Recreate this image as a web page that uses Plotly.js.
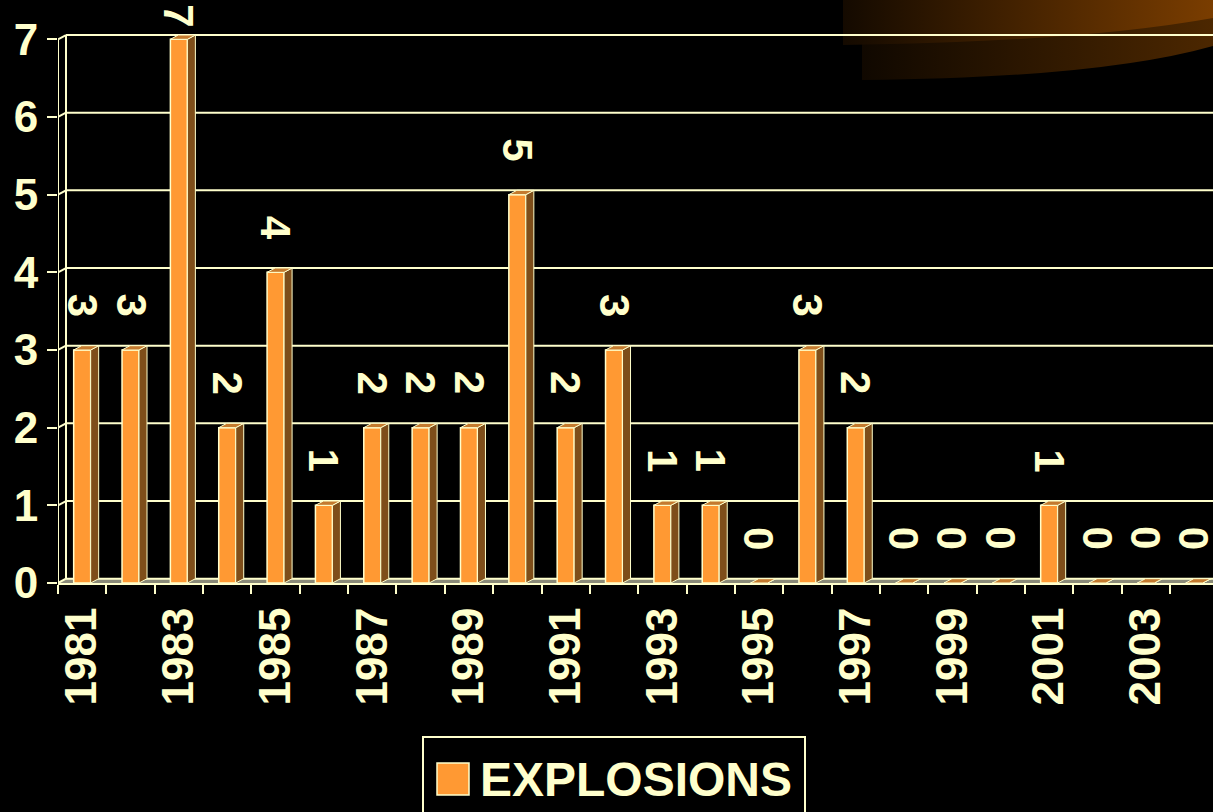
<!DOCTYPE html>
<html>
<head>
<meta charset="utf-8">
<script src="https://cdn.plot.ly/plotly-3.0.1.min.js"></script>
<style>
  html, body { margin: 0; padding: 0; background: #000; overflow: hidden; }
  #deco { position: absolute; left: 0; top: 0; z-index: 0; }
  #chart { position: absolute; left: 0; top: 0; width: 1213px; height: 812px; z-index: 1; }
</style>
</head>
<body>
<svg id="deco" width="1213" height="812" xmlns="http://www.w3.org/2000/svg">
  <defs>
    <linearGradient id="gUp" x1="0" x2="1" y1="0" y2="0">
      <stop offset="0" stop-color="#140a00"/>
      <stop offset="1" stop-color="#7a3d00"/>
    </linearGradient>
    <linearGradient id="gLow" x1="0" x2="1" y1="0" y2="0">
      <stop offset="0" stop-color="#100800"/>
      <stop offset="1" stop-color="#4c2700"/>
    </linearGradient>
  </defs>
  <path d="M 862 0 L 862 80 Q 1100 78 1213 46 L 1213 0 Z" fill="url(#gLow)"/>
  <path d="M 843 0 L 843 45 Q 1080 42 1213 18 L 1213 0 Z" fill="url(#gUp)"/>
</svg>
<div id="chart"></div>
<script>
// ---- data ----
const years = ['1981','1982','1983','1984','1985','1986','1987','1988','1989','1990','1991','1992',
               '1993','1994','1995','1996','1997','1998','1999','2000','2001','2002','2003','2004'];
const explosions = [3,3,7,2,4,1,2,2,2,5,2,3,1,1,0,3,2,0,0,0,1,0,0,0];
const yTicks = [0,1,2,3,4,5,6,7];
const seriesName = 'EXPLOSIONS';

// ---- geometry / style ----
const W = 1213, H = 812;
const mL = 58, mR = 0, mT = 0, mB = 229;
const plotW = W - mL - mR, plotH = H - mT - mB;
const slotPx = 48.35, pxPerY = 77.67;
const xMax = -0.5 + plotW / slotPx;
const yMax = plotH / pxPerY;
const dx = 8 / slotPx, dy = 4.3 / pxPerY;
const bw = 17 / slotPx;
const cream = '#FFFFCC', orange = '#FF9933', sideCol = '#7E4E1A', topCol = '#C47A2E';
const fontFam = 'Liberation Sans, Arial, sans-serif';

const idx = years.map((_, i) => i);

// side & top faces of the pseudo-3D bars
const sx = [], sy = [], tx = [], ty = [];
explosions.forEach((v, i) => {
  const xl = i - bw / 2, xr = i + bw / 2;
  sx.push(xr, xr + dx, xr + dx, xr, xr, null);
  sy.push(0, dy, v + dy, v, 0, null);
  tx.push(xl, xl + dx, xr + dx, xr, xl, null);
  ty.push(v, v + dy, v + dy, v, v, null);
});

const traces = [
  { type: 'bar', x: idx, y: explosions, width: bw, name: seriesName,
    marker: { color: orange, line: { color: cream, width: 1.5 } },
    customdata: years, hovertemplate: '%{customdata}: %{y}<extra></extra>', showlegend: false },
  { type: 'scatter', mode: 'lines', x: sx, y: sy, fill: 'toself', fillcolor: sideCol,
    line: { color: cream, width: 1 }, hoverinfo: 'skip', showlegend: false },
  { type: 'scatter', mode: 'lines', x: tx, y: ty, fill: 'toself', fillcolor: topCol,
    line: { color: cream, width: 1 }, hoverinfo: 'skip', showlegend: false }
];

// shapes: floor, back gridlines, wall
const shapes = [];
shapes.push({ type: 'path', xref: 'x', yref: 'y', layer: 'below',
  path: `M ${-0.5},0 L ${-0.5 + dx},${dy} L ${xMax + 1},${dy} L ${xMax + 1},0 Z`,
  fillcolor: '#8a8a78', line: { width: 0 } });
yTicks.forEach(v => {
  shapes.push({ type: 'line', xref: 'x', yref: 'y', layer: 'below',
    x0: -0.5 + dx, x1: xMax + 1, y0: v + dy, y1: v + dy, line: { color: cream, width: 2 } });
  shapes.push({ type: 'line', xref: 'x', yref: 'y', layer: 'below',
    x0: -0.5, x1: -0.5 + dx, y0: v, y1: v + dy, line: { color: cream, width: 2 } });
});
const yTop = yTicks[yTicks.length - 1];
shapes.push({ type: 'line', xref: 'x', yref: 'y', x0: -0.5, x1: -0.5, y0: 0, y1: yTop, line: { color: cream, width: 2 } });
shapes.push({ type: 'line', xref: 'x', yref: 'y', layer: 'below', x0: -0.5 + dx, x1: -0.5 + dx, y0: dy, y1: yTop + dy, line: { color: cream, width: 2 } });

// legend (custom, to get the large swatch)
const pxX = p => (p - mL) / plotW;
const pxY = p => (mT + plotH - p) / plotH;
shapes.push({ type: 'rect', xref: 'paper', yref: 'paper',
  x0: pxX(437), x1: pxX(469), y0: pxY(795), y1: pxY(763),
  fillcolor: orange, line: { color: cream, width: 1.5 } });

// data labels
const labOff = 45 / pxPerY, labCap = 7.30;
const annotations = explosions.map((v, i) => ({
  x: i, y: Math.min(v + labOff, labCap), xref: 'x', yref: 'y',
  text: String(v), textangle: 90, showarrow: false,
  xanchor: 'center', yanchor: 'middle',
  font: { family: fontFam, size: 42, color: cream, weight: 'bold' }
}));
annotations.push({
  xref: 'paper', yref: 'paper', x: pxX(806), y: pxY(739), xanchor: 'right', yanchor: 'top',
  text: '<b>' + seriesName + '</b>', showarrow: false, align: 'right', valign: 'middle',
  width: 356, height: 58, borderpad: 12, bordercolor: cream, borderwidth: 2, yshift: 3,
  font: { family: fontFam, size: 48, color: cream }
});

// labels on every other year (category centres), tick marks at category boundaries
const labelVals = [], labelText = [];
years.forEach((y, i) => { if (i % 2 === 0) { labelVals.push(i); labelText.push(y); } });
const boundaries = [];
for (let i = 0; i <= years.length; i++) boundaries.push(i - 0.5);

const layout = {
  width: W, height: H,
  margin: { l: mL, r: mR, t: mT, b: mB, pad: 0 },
  paper_bgcolor: 'rgba(0,0,0,0)', plot_bgcolor: 'rgba(0,0,0,0)',
  showlegend: false,
  xaxis: {
    type: 'linear', range: [-0.5, xMax], fixedrange: true,
    tickmode: 'array', tickvals: labelVals, ticktext: labelText,
    ticks: '', tickangle: -90, ticklabelstandoff: 5,
    minor: { tickmode: 'array', tickvals: boundaries, ticks: 'outside', ticklen: 9,
             tickwidth: 2, tickcolor: cream, showgrid: false },
    showline: true, linecolor: cream, linewidth: 2,
    showgrid: false, zeroline: false,
    tickfont: { family: fontFam, size: 44, color: cream, weight: 'bold' }
  },
  yaxis: {
    range: [0, yMax], fixedrange: true,
    tickmode: 'array', tickvals: yTicks,
    ticks: 'outside', ticklen: 10, tickwidth: 2, tickcolor: cream,
    showline: false, showgrid: false, zeroline: false,
    tickfont: { family: fontFam, size: 44, color: cream, weight: 'bold' }
  },
  shapes: shapes,
  annotations: annotations
};

Plotly.newPlot('chart', traces, layout, { displayModeBar: false });
</script>
</body>
</html>
